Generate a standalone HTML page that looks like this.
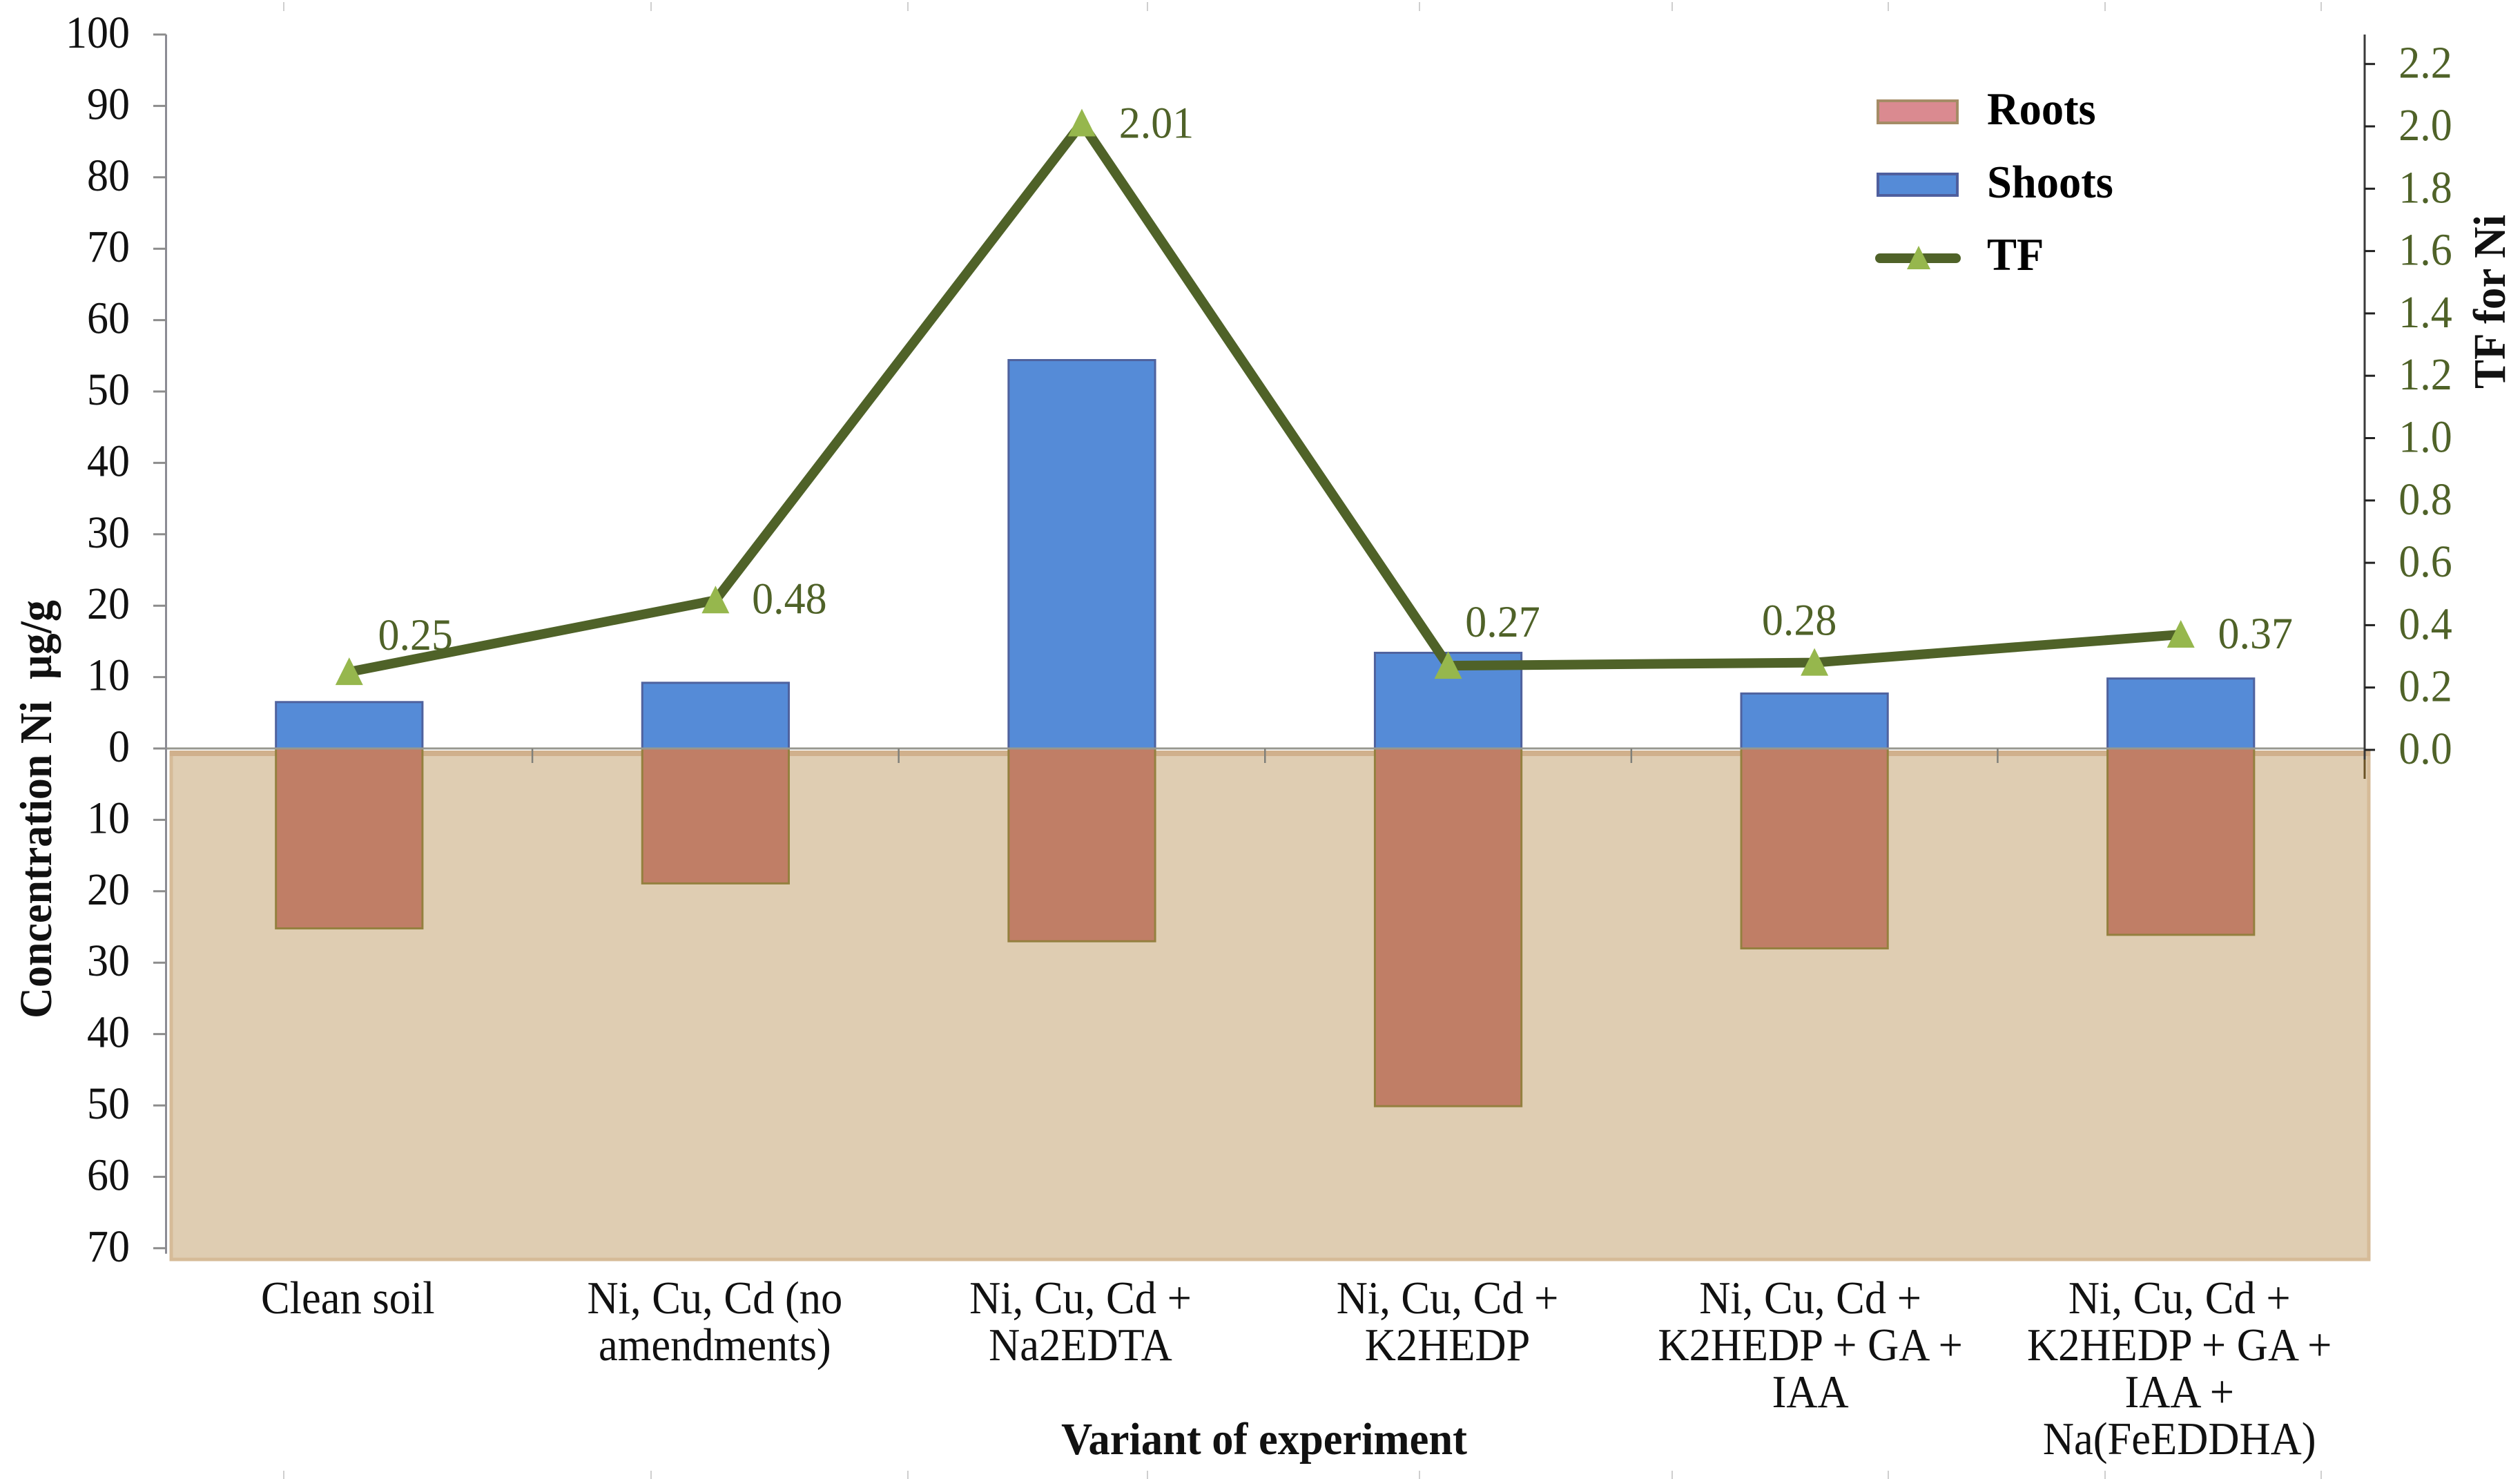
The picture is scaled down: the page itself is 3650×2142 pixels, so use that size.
<!DOCTYPE html>
<html lang="en">
<head>
<meta charset="utf-8">
<title>Concentration of Ni in roots and shoots with translocation factor</title>
<style>
html,body{margin:0;padding:0;background:#fff;}
svg{display:block;font-family:"Liberation Serif","Times New Roman",serif;}
svg text{white-space:pre;}
</style>
</head>
<body>
<svg id="chart" xmlns="http://www.w3.org/2000/svg" width="3650" height="2142" viewBox="0 0 3650 2142"></svg>
<script>
const categories = [
  ["Clean soil"],
  ["Ni, Cu, Cd (no", "amendments)"],
  ["Ni, Cu, Cd +", "Na2EDTA"],
  ["Ni, Cu, Cd +", "K2HEDP"],
  ["Ni, Cu, Cd +", "K2HEDP + GA +", "IAA"],
  ["Ni, Cu, Cd +", "K2HEDP + GA +", "IAA +", "Na(FeEDDHA)"]
];
const shoots = [6.5, 9.2, 54.4, 13.4, 7.7, 9.8];
const roots = [25.2, 18.9, 27, 50.1, 28, 26.1];
const tf = [0.25, 0.48, 2.01, 0.27, 0.28, 0.37];
const tfLabels = ["0.25", "0.48", "2.01", "0.27", "0.28", "0.37"];
const leftTicksUp = [0, 10, 20, 30, 40, 50, 60, 70, 80, 90, 100];
const leftTicksDown = [10, 20, 30, 40, 50, 60, 70];
const rightTicks = [0.0, 0.2, 0.4, 0.6, 0.8, 1.0, 1.2, 1.4, 1.6, 1.8, 2.0, 2.2];

const NS = "http://www.w3.org/2000/svg";
const svg = document.getElementById("chart");
const PLOT_LEFT = 240.5, PLOT_RIGHT = 3424, ZERO_Y = 1084, RIGHT_ZERO_Y = 1086;
const catWidth = (PLOT_RIGHT - PLOT_LEFT) / categories.length;
const xCenter = i => PLOT_LEFT + catWidth * (i + 0.5);
const yLeft = v => ZERO_Y - v * 10.34;
const yRight = v => RIGHT_ZERO_Y - v * 451.5;
const BAR_WIDTH = catWidth * 0.4;
const TF_GREEN = "#4f6228";

function make(tag, attrs, parent) {
  const el = document.createElementNS(NS, tag);
  for (const k in attrs) el.setAttribute(k, attrs[k]);
  (parent || svg).appendChild(el);
  return el;
}
function label(str, x, y, size, opts, parent) {
  const o = opts || {};
  const el = make("text", {
    transform: "translate(" + x + "," + y + ")" + (o.rotate ? " rotate(" + o.rotate + ")" : "") + " scale(" + (o.sx || 1) + "," + (o.sy || 1) + ")",
    "font-size": size,
    "text-anchor": o.anchor || "middle",
    "font-weight": o.bold ? "bold" : "normal",
    fill: o.fill || "#111"
  }, parent);
  el.textContent = str;
  return el;
}

/* faint crop marks along the top and bottom edge */
const edgeMarks = make("g", { stroke: "#cfcfcf", "stroke-width": 2 });


[411, 943, 1315, 1662, 2056, 2422, 2735, 3049, 3362].forEach(x => {
  make("line", { x1: x, x2: x, y1: 3, y2: 16 }, edgeMarks);
  make("line", { x1: x, x2: x, y1: 2130, y2: 2142 }, edgeMarks);
});

/* tan soil panel */
const panel = make("rect", { x: 248, y: 1090, width: 3183, height: 734, fill: "#dfcdb2", stroke: "#d6bb98", "stroke-width": 5 });


const panelBand = make("rect", { x: 246, y: 1087, width: 3187, height: 8, fill: "#d0b08c" });



/* bars */
categories.forEach((c, i) => {
  const x = xCenter(i) - BAR_WIDTH / 2;
  const top = yLeft(shoots[i]);
  const shoot = make("rect", { x: x, y: top, width: BAR_WIDTH, height: ZERO_Y - top, fill: "#558bd7", stroke: "#4f629e", "stroke-width": 3 });
  
  
  const bottom = yLeft(-roots[i]);
  const root = make("rect", { x: x, y: ZERO_Y, width: BAR_WIDTH, height: bottom - ZERO_Y, fill: "#c07e66", stroke: "#94803f", "stroke-width": 3 });
  
  
});

/* zero line */
const zeroLine = make("line", { x1: 222, x2: PLOT_RIGHT, y1: ZERO_Y, y2: ZERO_Y, stroke: "#97978f", "stroke-width": 3 });


categories.forEach((c, i) => {
  const x = PLOT_LEFT + catWidth * (i + 1);
  if (i < categories.length - 1) {
    const t = make("line", { x1: x, x2: x, y1: ZERO_Y, y2: ZERO_Y + 21, stroke: "#80807a", "stroke-width": 2.5 });
    
    
  }
});

/* left axis */
const leftAxis = make("g", {});


make("line", { x1: PLOT_LEFT, x2: PLOT_LEFT, y1: yLeft(100), y2: yLeft(-leftTicksDown[leftTicksDown.length - 1]) + 8, stroke: "#8c8c94", "stroke-width": 3 }, leftAxis);
leftTicksUp.forEach(v => {
  make("line", { x1: 222, x2: PLOT_LEFT, y1: yLeft(v), y2: yLeft(v), stroke: "#8c8c8c", "stroke-width": 3 }, leftAxis);
  label(String(v), 188, yLeft(v) + 19, 62, { anchor: "end", sy: 1.06 }, leftAxis);
});
leftTicksDown.forEach(v => {
  make("line", { x1: 222, x2: PLOT_LEFT, y1: yLeft(-v), y2: yLeft(-v), stroke: "#8c8c8c", "stroke-width": 3 }, leftAxis);
  label(String(v), 188, yLeft(-v) + 19, 62, { anchor: "end", sy: 1.06 }, leftAxis);
});

/* right axis */
const rightAxis = make("g", {});


make("line", { x1: 3425, x2: 3425, y1: 50, y2: 1100, stroke: "#3a3a3a", "stroke-width": 3 }, rightAxis);
make("line", { x1: 3425, x2: 3425, y1: 1100, y2: 1128, stroke: "#6b5326", "stroke-width": 3 }, rightAxis);
rightTicks.forEach(v => {
  make("line", { x1: 3425, x2: 3440, y1: yRight(v), y2: yRight(v), stroke: "#222", "stroke-width": 3 }, rightAxis);
  label(v.toFixed(1), 3513, yRight(v) + 20, 62, { fill: TF_GREEN, sy: 1.06 }, rightAxis);
});

/* TF line */
const tfPoints = tf.map((v, i) => xCenter(i) + "," + yRight(v)).join(" ");
const tfLine = make("polyline", { points: tfPoints, fill: "none", stroke: TF_GREEN, "stroke-width": 14, "stroke-linejoin": "miter" });


tf.forEach((v, i) => {
  const x = xCenter(i), y = yRight(v);
  const m = make("polygon", { points: (x - 20) + "," + (y + 19) + " " + x + "," + (y - 21) + " " + (x + 20) + "," + (y + 19), fill: "#96b74d" });
  
  
});
/* TF data labels, offset from their markers */
const tfLabelDx = [96, 107, 108, 79, -22, 108];
const tfLabelDy = [-32, 19, 21, -42, -40, 20];
tfLabels.forEach((t, i) => {
  const el = label(t, xCenter(i) + tfLabelDx[i], yRight(tf[i]) + tfLabelDy[i], 62, { fill: TF_GREEN, sy: 1.05 });
  
  
});

/* category labels */
const catOffset = [-2, -1, -2, -1, -6, -2];
categories.forEach((lines, i) => {
  const g = make("g", {});
  
  
  lines.forEach((line, j) => {
    label(line, xCenter(i) + catOffset[i], 1902 + j * 68, 62.5, { sy: 1.06 }, g);
  });
});

/* axis titles */
const xTitle = label("Variant of experiment", 1831, 2106, 62.5, { bold: true, sy: 1.05 });


const yTitle = label("Concentration Ni  \u00b5g/g", 74, 1172, 62, { bold: true, rotate: -90, sy: 1.06 });


const rTitle = label("TF for Ni", 3628, 437, 63, { bold: true, rotate: -90, sy: 1.05 });



/* legend */
const legend = make("g", {});


const rootsKey = make("rect", { x: 2720, y: 146, width: 115, height: 32, fill: "#da8a90", stroke: "#a58c66", "stroke-width": 4 }, legend);


const shootsKey = make("rect", { x: 2720, y: 252, width: 115, height: 31, fill: "#558bd7", stroke: "#4f5f9e", "stroke-width": 4 }, legend);


const tfKeyLine = make("line", { x1: 2723, x2: 2833, y1: 374, y2: 374, stroke: TF_GREEN, "stroke-width": 14, "stroke-linecap": "round" }, legend);


const tfKeyMark = make("polygon", { points: "2762,390 2779,356 2796,390", fill: "#96b74d" }, legend);


const legendRoots = label("Roots", 2878, 180, 64.5, { anchor: "start", bold: true, sy: 1.04, fill: "#000" }, legend);


const legendShoots = label("Shoots", 2878, 286, 64.5, { anchor: "start", bold: true, sy: 1.04, fill: "#000" }, legend);


const legendTf = label("TF", 2878, 391, 64.5, { anchor: "start", bold: true, sy: 1.04, fill: "#000" }, legend);


</script>
</body>
</html>
